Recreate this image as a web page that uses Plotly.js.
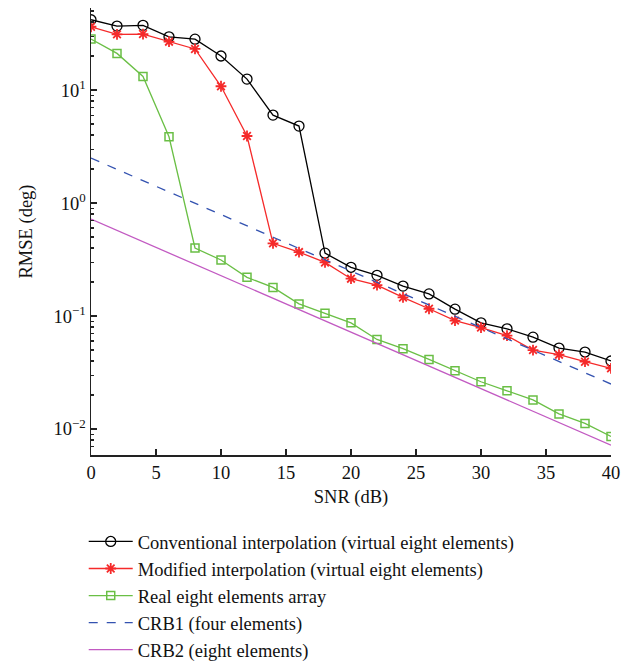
<!DOCTYPE html>
<html>
<head>
<meta charset="utf-8">
<script src="https://cdn.plot.ly/plotly-3.0.1.min.js"></script>
<style>html,body{margin:0;padding:0;background:#fff}#chart{width:634px;height:665px}</style>
</head>
<body>
<div id="chart"></div>
<script>
const snr = [0,2,4,6,8,10,12,14,16,18,20,22,24,26,28,30,32,34,36,38,40];
const conventional = [41.9,36.8,37.4,29.6,28.2,20.0,12.5,6.0,4.8,0.36,0.27,0.229,0.184,0.157,0.115,0.087,0.077,0.065,0.052,0.048,0.040];
const modified = [36.3,31.1,31.3,26.8,23.1,10.8,3.92,0.44,0.368,0.298,0.214,0.188,0.146,0.116,0.091,0.079,0.067,0.050,0.0455,0.0394,0.0344];
const realEight = [28.3,21.1,13.2,3.86,0.40,0.313,0.22,0.179,0.128,0.106,0.087,0.062,0.0514,0.0413,0.0328,0.0262,0.0218,0.0181,0.0136,0.0112,0.0086];
const crbX = [0,40];
const crb1 = [2.5,0.025];
const crb2 = [0.72,0.0072];
const names = ['Conventional interpolation (virtual eight elements)','Modified interpolation (virtual eight elements)','Real eight elements array','CRB1 (four elements)','CRB2 (eight elements)'];
const yTickVals = [0.01,0.1,1,10];
const yTickText = ['10<sup>\u22122</sup>','10<sup>\u22121</sup>','10<sup>0</sup>','10<sup>1</sup>'];
const xTickVals = [0,5,10,15,20,25,30,35,40];

const serif = 'Liberation Serif, Times New Roman, serif';
const traces = [
  {x:snr,y:conventional,name:names[0],mode:'lines+markers',line:{color:'#000000',width:1.3},marker:{symbol:'circle-open',size:10,color:'#000000',line:{width:1.3}}},
  {x:snr,y:modified,name:names[1],mode:'lines+markers',line:{color:'#f52a2a',width:1.3},marker:{symbol:'asterisk-open',size:9,color:'#f52a2a',line:{width:1.8,color:'#f52a2a'}}},
  {x:snr,y:realEight,name:names[2],mode:'lines+markers',line:{color:'#6abf45',width:1.3},marker:{symbol:'square-open',size:8,color:'#6abf45',line:{width:1.5}}},
  {x:crbX,y:crb1,name:names[3],mode:'lines',line:{color:'#3352b0',width:1.3,dash:'dash'}},
  {x:crbX,y:crb2,name:names[4],mode:'lines',line:{color:'#c25ac2',width:1.3}}
];
const layout = {
  width:634,height:665,
  margin:{l:91,r:23,t:8,b:210,autoexpand:false},
  paper_bgcolor:'#fff',plot_bgcolor:'#fff',
  font:{family:serif,size:18,color:'#111'},
  showlegend:true,
  legend:{x:-0.014,y:-0.152,xanchor:'left',yanchor:'top',font:{family:serif,size:18.5,color:'#111'},tracegroupgap:0,itemwidth:44,borderwidth:0,bgcolor:'rgba(0,0,0,0)'},
  xaxis:{range:[0,40],tickvals:xTickVals,ticks:'inside',ticklen:6,tickwidth:1.2,tickcolor:'#222',showline:true,linecolor:'#222',linewidth:1.5,showgrid:false,zeroline:false,mirror:false,automargin:false,
         title:{text:'SNR (dB)',font:{family:serif,size:18.5},standoff:8},tickfont:{family:serif,size:18.5}},
  yaxis:{type:'log',range:[-2.23,1.726],tickvals:yTickVals,ticktext:yTickText,ticks:'inside',ticklen:6,tickwidth:1.2,tickcolor:'#222',showline:true,linecolor:'#222',linewidth:1.5,showgrid:false,zeroline:false,automargin:false,
         minor:{ticks:'inside',ticklen:3,tickcolor:'#222',dtick:'D1',showgrid:false},
         title:{text:'RMSE (deg)',font:{family:serif,size:18.5},standoff:16},tickfont:{family:serif,size:18.5}}
};
Plotly.newPlot('chart',traces,layout,{displayModeBar:false,staticPlot:true});
</script>
</body>
</html>
